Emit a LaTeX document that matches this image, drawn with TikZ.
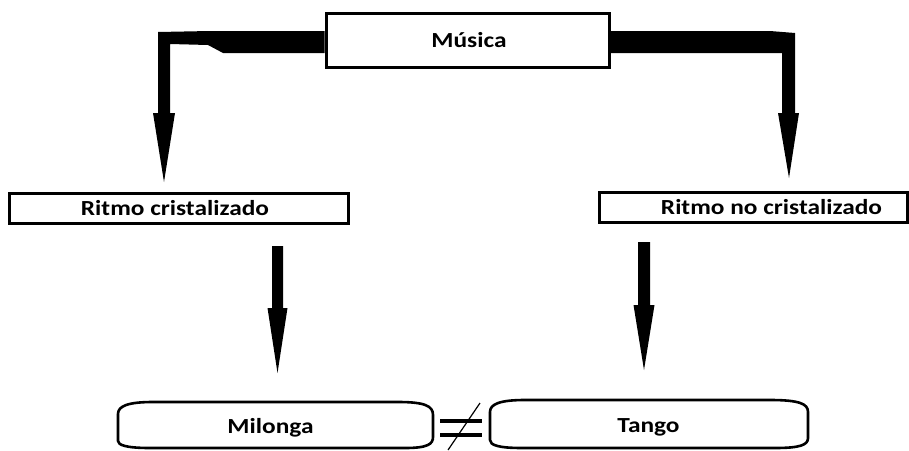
\documentclass[tikz,border=0pt]{standalone}
\usepackage{fontspec}
\setmainfont{Carlito}[FakeStretch=1.18]
\usetikzlibrary{calc}

\tikzset{
  frame/.style={draw=black, line width=3pt, fill=white, inner sep=0pt},
  label text/.style={font=\bfseries\fontsize{21.5pt}{25pt}\selectfont, inner sep=0pt, anchor=base},
  capsule/.style={draw=black, line width=2.6pt, line join=round},
  block/.style={fill=black},
}

% vertical block arrow: centre x, top y, shaft half width, head half width, head base y, tip y
\newcommand{\blockdown}[6]{%
  \fill[block] (#1-#3,#2) -- (#1+#3,#2) -- (#1+#3,#5) -- (#1+#4,#5) -- (#1,#6)
    -- (#1-#4,#5) -- (#1-#3,#5) -- cycle;}

\begin{document}
\begin{tikzpicture}[x=1pt, y=-1pt]
\useasboundingbox (0,0) rectangle (909,450);

% boxes
\node[frame, minimum width=283pt, minimum height=54pt] (musicabox) at (467.5,40) {};
\node[frame, minimum width=339pt, minimum height=30pt] (rcbox) at (178.5,208) {};
\node[frame, minimum width=308pt, minimum height=30pt] (rncbox) at (753,207) {};

% thick elbow connectors out of the top box
\fill[block] (musicabox.west |- 0,31) -- (210,31) -- (158,32) -- (158,113) -- (153,113) -- (164,182)
  -- (175,113) -- (170,113) -- (170,44) -- (208,45) -- (223,53) -- (musicabox.west |- 0,53) -- cycle;
\fill[block] (musicabox.east |- 0,31) -- (770,31) -- (795,33) -- (795,113) -- (799,113)
  -- (789,178) -- (778,113) -- (782,113) -- (782,53) -- (musicabox.east |- 0,53) -- cycle;

% straight block arrows
\blockdown{277.5}{246}{5.5}{10}{308}{373}
\blockdown{644}{242}{6}{10.5}{305}{370}

% bottom rounded boxes
\draw[capsule] (153,402) -- (398,402) .. controls (425,402) and (433,406) .. (433,415)
  -- (433,437) .. controls (433,444) and (428,448) .. (405,448) -- (150,448)
  .. controls (126,448) and (118,445) .. (118,441) -- (118,414)
  .. controls (118,406) and (128,402) .. (153,402) -- cycle;
\draw[capsule] (525,400) -- (770,400) .. controls (800,400) and (808,404) .. (808,412)
  -- (808,438) .. controls (808,445) and (800,448) .. (775,448) -- (522,448)
  .. controls (498,448) and (490,445) .. (490,440) -- (490,412)
  .. controls (490,404) and (500,400) .. (525,400) -- cycle;

% not-equal sign between the two bottom boxes
\draw[line width=4pt] (440,421) -- (482,421);
\draw[line width=4pt] (440,435) -- (482,435);
\draw[line width=1.2pt] (480,403) -- (448,450);

% texts
\node[label text] (musica) at (469,47) {Música};
\node[label text] (rc) at (175,215) {Ritmo cristalizado};
\node[label text] (rnc) at (771.5,214) {Ritmo no cristalizado};
\node[label text] (milonga) at (270.5,433) {Milonga};
\node[label text] (tango) at (648.5,432) {Tango};
\end{tikzpicture}
\end{document}
